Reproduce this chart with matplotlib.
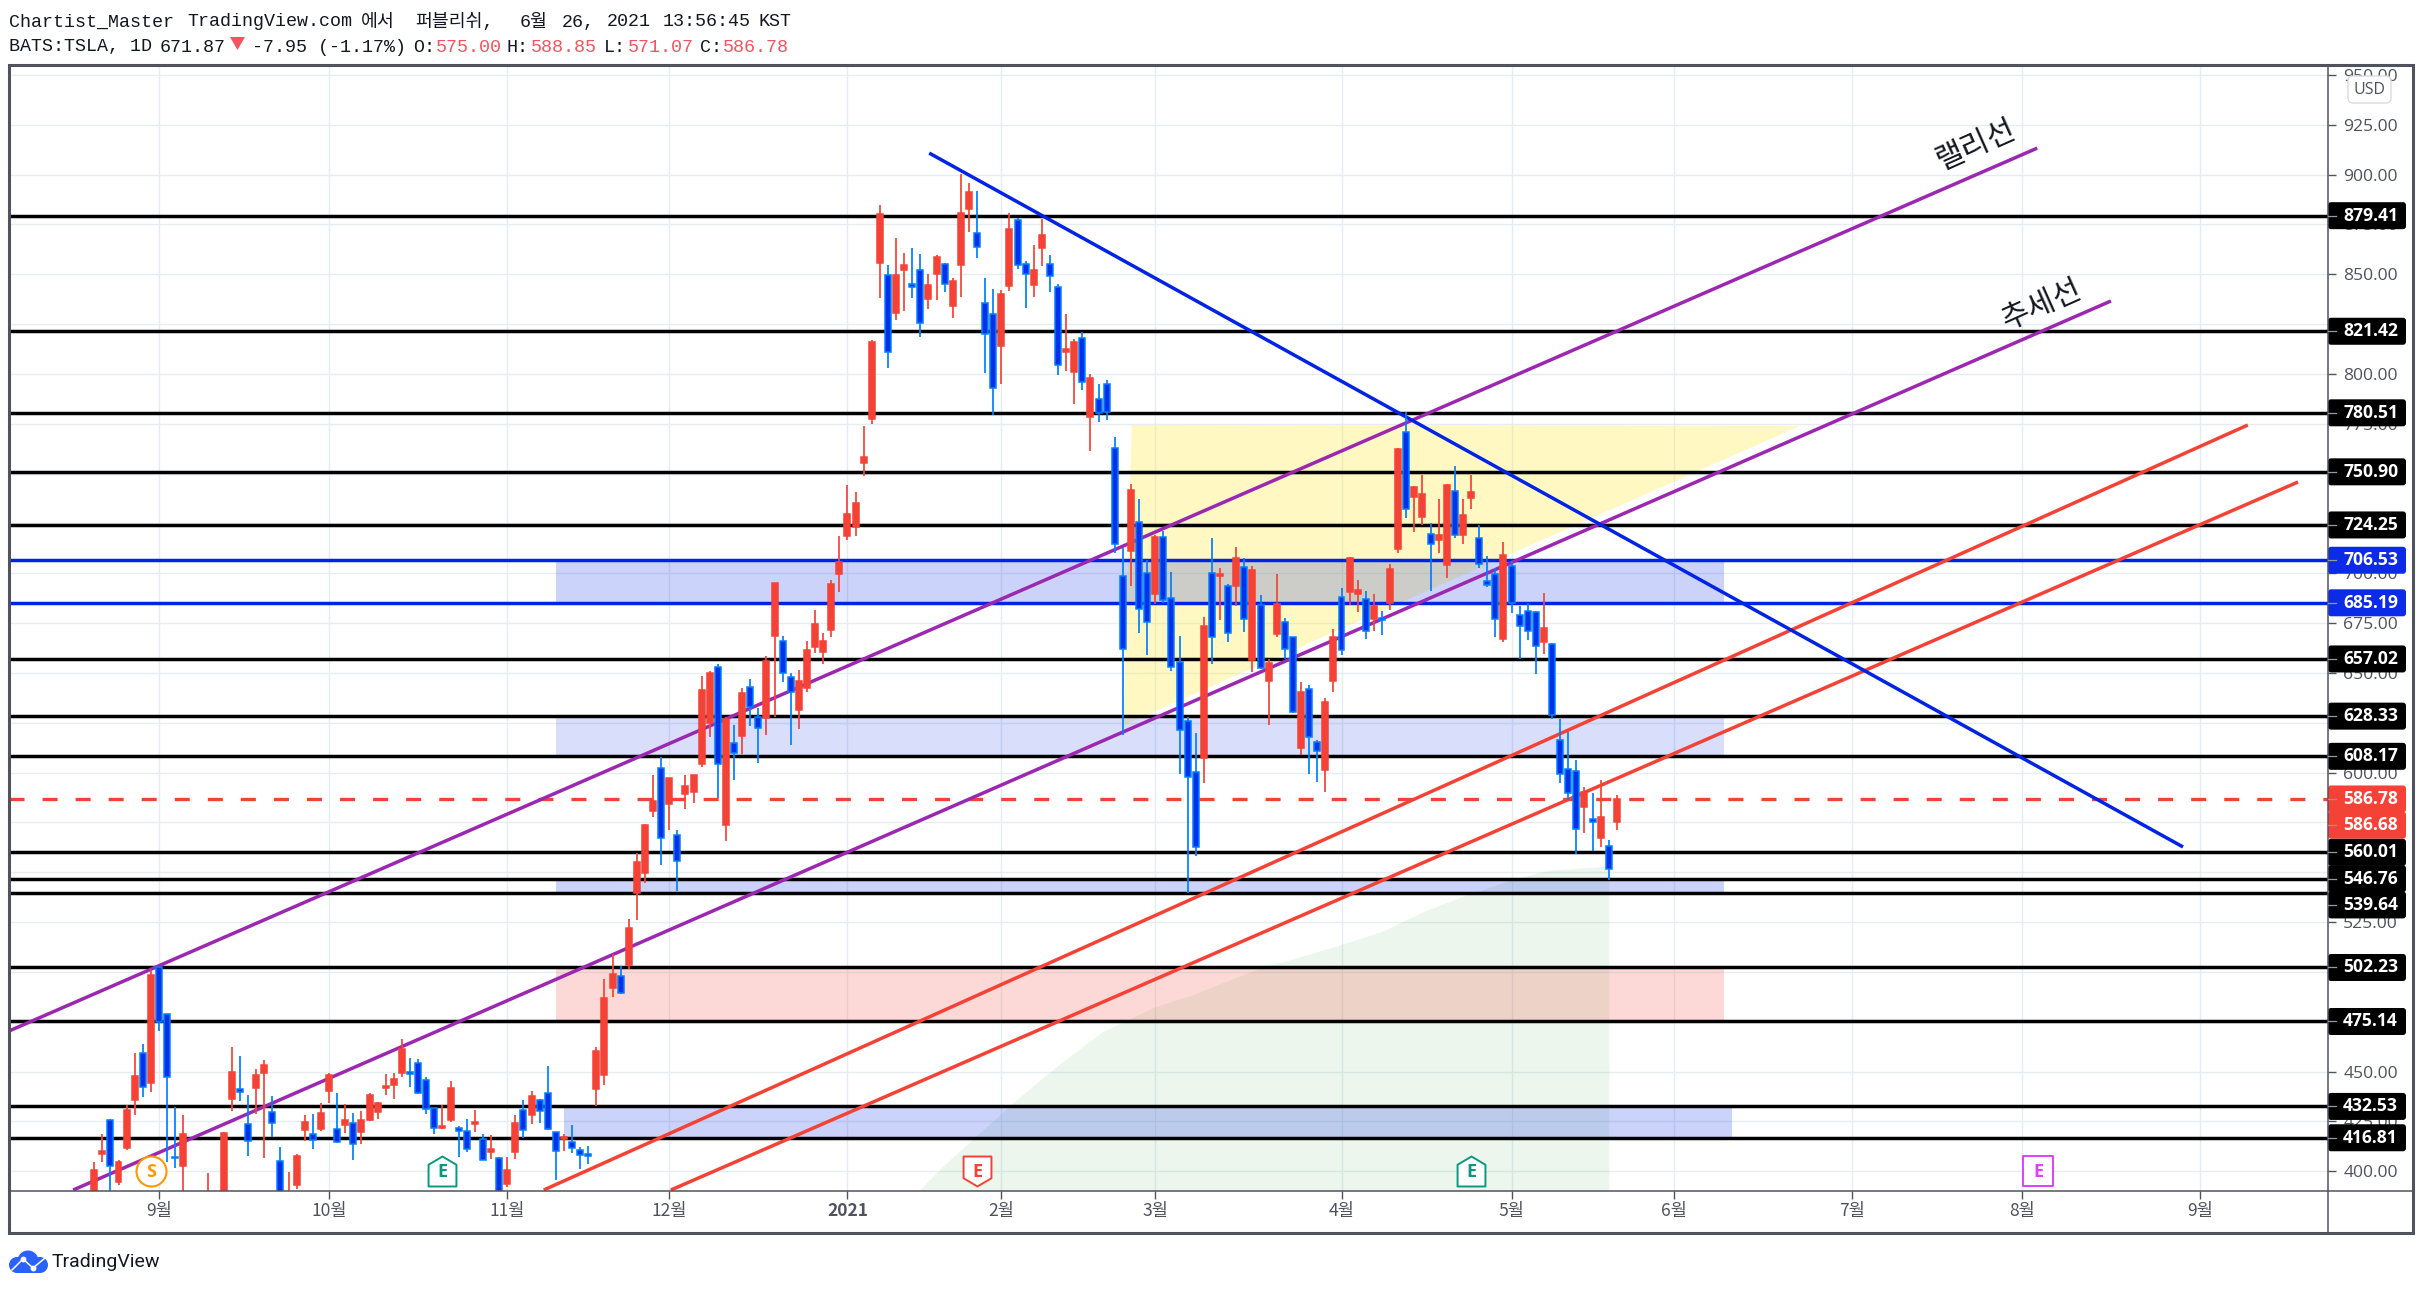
import numpy as np
import matplotlib
matplotlib.use('Agg')
import matplotlib.pyplot as plt
from matplotlib.patches import Rectangle, FancyBboxPatch, Polygon, Circle
from matplotlib.path import Path

plt.rcParams['lines.scale_dashes'] = False

# Daily candles, first bar is eight sessions before 1 Sep 2020, last is 20 May 2021
bars = np.arange(-8, 181)
opens = [372.0, 408.6, 425.6, 394.7, 411.6, 435.7, 459.1, 444.2,
    502.4, 479.1, 407.4, 402.7, 356.0, 356.6, 370.0, 366.0, 381.0, 436.2, 441.5, 423.5, 441.7, 449.2, 429.5,
    404.9, 363.8, 393.2, 420.8, 418.9, 421.1,
    440.2, 421.4, 423.1, 424.0, 419.8, 425.8, 429.6, 441.7, 443.4, 449.4, 450.0, 454.4, 446.0, 431.5, 421.8,
    425.6, 421.95, 420.4, 423.6, 416.4, 409.7, 406.9,
    393.5, 409.7, 430.5, 428.3, 436.0, 439.5, 419.9, 416.4, 414.8, 410.9, 408.9, 441.35, 448.4, 492.0, 498.2,
    503.6, 539.4, 549.5, 580.8, 602.2, 584.3, 568.5, 589.3, 590.5, 604.3, 624.7, 653.2, 573.9, 614.7, 618.5,
    642.8, 627.7, 627.6, 668.7, 665.9, 647.8, 631.4, 642.6, 663.2, 660.7, 671.6, 699.6, 718.7, 723.2,
    755.3, 777.6, 855.8, 849.5, 830.7, 852.1, 845.0, 852.0, 837.6, 850.1, 855.0, 834.2, 854.6, 882.8, 870.5,
    835.4, 829.9, 814.2, 844.3, 877.1, 855.0, 844.6, 863.4, 855.0, 843.6, 811.0, 801.1, 817.9, 778.6, 787.3,
    794.8, 762.7, 698.5, 711.3, 725.9, 700.0, 689.8, 718.0, 687.8, 655.3, 625.7, 600.1, 607.5, 700.0, 698.8,
    693.5, 693.8, 703.0, 656.5, 684.1, 646.1, 669.5, 675.4, 667.9, 612.5, 641.8, 615.2, 601.5, 646.1, 687.9,
    690.8, 689.8, 686.9, 677.2, 677.4, 685.3, 712.4, 770.7, 738.4, 728.4, 719.5, 716.9, 704.3, 741.1, 719.4,
    737.9, 717.5, 696.0, 699.5, 667.0, 703.5, 678.9, 680.9, 680.4, 665.4, 664.7, 616.5, 602.0, 601.0, 582.9,
    576.6, 567.4, 563.0, 575.0]
highs = [404.4, 418.9, 426.1, 405.6, 433.2, 459.2, 463.8, 501.4,
    502.55, 479.1, 432.0, 428.1, 368.7, 369.0, 399.0, 382.5, 419.9, 462.3, 457.7, 438.2, 451.2, 455.7, 437.7,
    412.1, 399.4, 408.9, 428.1, 428.6, 434.2,
    449.2, 439.2, 433.7, 429.1, 430.1, 439.2, 434.5, 448.7, 449.2, 466.3, 456.7, 456.2, 447.2, 431.7, 433.2,
    445.2, 422.8, 426.1, 430.6, 418.6, 418.1, 407.4,
    407.1, 428.1, 435.7, 440.2, 436.5, 452.6, 419.9, 418.6, 423.1, 412.4, 412.6, 462.3, 496.4, 508.9, 503.1,
    526.5, 559.5, 574.2, 598.8, 607.7, 597.1, 571.2, 598.8, 598.8, 648.5, 651.0, 654.5, 627.7, 623.9, 642.5,
    646.8, 632.2, 658.5, 695.0, 668.6, 649.8, 651.5, 665.9, 681.6, 670.2, 696.6, 718.7, 744.3, 740.8,
    773.9, 817.0, 884.8, 854.6, 868.2, 860.7, 863.2, 860.2, 850.1, 859.7, 855.7, 848.1, 900.3, 895.8, 891.8,
    848.1, 842.6, 842.1, 880.7, 878.2, 856.7, 864.7, 877.7, 859.7, 845.0, 830.1, 817.4, 821.0, 800.0, 795.0,
    796.9, 768.4, 712.5, 744.8, 737.3, 706.7, 719.2, 721.2, 700.6, 668.5, 627.7, 619.9, 677.9, 717.7, 702.5,
    694.6, 713.2, 707.5, 703.7, 689.1, 656.8, 699.6, 677.6, 667.9, 645.5, 643.8, 616.4, 637.3, 672.1, 692.4,
    708.0, 696.6, 691.0, 689.6, 681.1, 704.6, 762.7, 780.9, 743.8, 749.3, 725.1, 737.3, 744.8, 753.8, 737.3,
    749.3, 724.2, 708.7, 702.5, 715.7, 706.0, 683.6, 685.3, 681.2, 690.1, 664.8, 626.7, 620.4, 606.3, 592.8,
    589.8, 596.3, 566.2, 588.85]
lows = [371.0, 404.4, 385.0, 393.0, 410.8, 428.1, 437.2, 439.7,
    470.3, 404.4, 401.6, 351.0, 329.9, 341.5, 360.0, 360.5, 373.0, 430.1, 435.2, 407.6, 428.6, 406.6, 417.1,
    375.9, 351.3, 391.0, 415.1, 411.1, 420.1,
    434.2, 414.4, 419.1, 405.6, 413.6, 425.1, 426.1, 438.2, 436.2, 447.4, 442.2, 438.7, 428.6, 418.6, 421.1,
    424.6, 407.1, 409.7, 419.8, 405.7, 406.1, 379.0,
    392.2, 406.1, 416.6, 423.6, 424.1, 420.6, 395.5, 410.2, 409.1, 401.1, 403.6, 432.7, 443.2, 487.3, 488.8,
    501.4, 526.0, 544.8, 577.9, 553.7, 571.2, 540.8, 581.8, 584.9, 602.6, 618.0, 587.1, 565.9, 596.3, 609.4,
    623.6, 604.7, 618.9, 628.1, 645.6, 613.9, 621.9, 640.4, 660.2, 654.5, 668.2, 690.8, 716.7, 718.7,
    748.8, 774.9, 838.1, 803.0, 827.1, 831.6, 838.1, 818.5, 832.6, 837.1, 841.1, 828.1, 838.6, 871.2, 858.2,
    800.5, 779.4, 794.9, 841.6, 852.6, 833.1, 838.6, 854.1, 841.1, 799.5, 801.5, 784.9, 792.0, 761.3, 775.9,
    776.9, 710.0, 618.9, 693.8, 670.2, 659.0, 684.6, 684.9, 651.1, 599.3, 539.5, 558.3, 594.9, 654.7, 676.6,
    665.7, 683.6, 670.6, 650.5, 651.8, 623.9, 668.2, 657.2, 629.7, 608.8, 599.3, 595.3, 590.5, 640.6, 659.0,
    684.1, 680.6, 667.0, 671.0, 669.0, 681.6, 710.2, 727.7, 720.7, 724.2, 691.1, 710.2, 697.6, 717.7, 714.7,
    732.2, 702.6, 693.1, 668.0, 665.5, 680.1, 657.0, 666.5, 649.5, 659.5, 627.1, 594.6, 586.3, 559.2, 569.9,
    560.7, 562.7, 546.1, 571.07]
closes = [400.5, 410.1, 402.7, 404.4, 430.6, 447.7, 442.4, 498.4,
    474.8, 447.4, 406.7, 418.6, 330.2, 366.3, 385.0, 372.7, 419.4, 449.7, 439.8, 415.4, 448.2, 453.2, 424.0,
    380.4, 387.8, 407.6, 424.6, 415.9, 429.1,
    448.2, 414.9, 425.5, 413.9, 425.5, 438.5, 434.0, 442.7, 446.5, 461.3, 448.9, 439.5, 431.0, 421.95, 422.5,
    442.0, 420.3, 411.4, 424.6, 405.9, 411.1, 388.0,
    400.5, 424.1, 420.9, 438.0, 430.0, 421.3, 410.4, 417.1, 411.9, 408.4, 407.9, 460.1, 486.7, 499.2, 489.5,
    521.8, 555.0, 573.7, 585.8, 567.0, 597.1, 555.8, 593.3, 598.8, 641.5, 649.8, 604.2, 626.7, 609.7, 639.8,
    632.7, 622.6, 656.2, 695.0, 649.8, 640.3, 645.8, 661.5, 674.6, 666.0, 694.6, 705.7, 729.7, 735.3,
    758.3, 816.0, 880.2, 810.9, 849.6, 854.6, 843.4, 825.7, 844.6, 858.7, 845.0, 846.6, 880.7, 891.3, 863.9,
    819.9, 793.1, 840.1, 872.7, 854.5, 850.0, 852.1, 869.7, 849.3, 804.6, 812.5, 816.0, 796.1, 797.8, 780.6,
    781.1, 714.5, 661.9, 741.8, 681.9, 675.4, 718.2, 686.4, 652.8, 621.4, 597.6, 562.5, 673.6, 667.9, 699.6,
    669.9, 707.7, 676.9, 701.6, 652.6, 654.8, 684.6, 661.9, 630.3, 640.3, 618.0, 611.0, 635.4, 667.9, 661.4,
    707.5, 691.5, 670.9, 683.6, 676.6, 702.2, 762.3, 732.1, 743.1, 739.6, 714.5, 719.0, 744.1, 719.4, 729.1,
    740.6, 704.5, 694.0, 676.9, 709.0, 684.9, 673.4, 670.9, 663.4, 672.4, 628.7, 599.1, 589.6, 571.6, 590.1,
    575.1, 577.7, 551.8, 586.78]

# Horizontal levels drawn across the whole panel
black_levels = [879.41, 821.42, 780.51, 750.90, 724.25, 657.02, 628.33, 608.17,
                560.01, 546.76, 539.64, 502.23, 475.14, 432.53, 416.81]
blue_levels = [706.53, 685.19]
last_price = 586.78

# Right axis price tags: value, colour, offset in pixels where tags would collide
tag_values = [879.41, 821.42, 780.51, 750.90, 724.25, 706.53, 685.19, 657.02, 628.33, 608.17,
              586.78, 586.68, 560.01, 546.76, 539.64, 502.23, 475.14, 432.53, 416.81]
tag_colors = ['k', 'k', 'k', 'k', 'k', '#0B2BE8', '#0B2BE8', 'k', 'k', 'k',
              '#F44336', '#F44336', 'k', 'k', 'k', 'k', 'k', 'k', 'k']
tag_shifts = [0, 0, 0, 0, 0, 0, 0, 0, 0, 0, 0, 26, 0, 0, 12, 0, 0, 0, 0]

# Shaded price zones: low, high, first bar, last bar, colour, alpha
zone_low = [685.19, 608.17, 539.64, 475.14, 416.81]
zone_high = [706.53, 628.33, 546.76, 502.23, 432.53]
zone_start = [49.0, 49.0, 49.0, 49.0, 50.0]
zone_end = [193.2, 193.2, 193.2, 193.2, 194.2]
zone_colors = ['#0023E6', '#0023E6', '#0023E6', '#F44336', '#0023E6']
zone_alpha = [0.2, 0.15, 0.2, 0.2, 0.2]

# Trend lines, given as bar number and price at both ends
purple_bars = [[-18.5, 231.9], [-10.6, 241.0]]
purple_prices = [[470.4, 913.3], [390.6, 836.6]]
red_bars = [[47.5, 257.9], [63.2, 264.1]]
red_prices = [[390.6, 774.4], [390.6, 745.8]]
down_bars = [95.1, 249.9]
down_prices = [910.8, 562.7]

# Yellow triangle
triangle_bars = [120.1, 202.6, 119.1]
triangle_prices = [774.4, 773.9, 623.8]

# Green area below the price
area_bars = [93.8, 96.7, 100.8, 104.9, 107.8, 111.3, 116.5, 123.0, 127.6, 131.7,
             136.9, 139.3, 145.1, 150.9, 156.1, 161.4, 166.6, 171.3, 179.0]
area_prices = [390.3, 402.3, 417.4, 432.4, 442.5, 454.2, 470.1, 482.6, 488.5, 495.2,
               503.5, 505.7, 512.7, 520.2, 530.3, 538.6, 545.8, 550.8, 553.2]

# Month ticks as bar numbers
month_bars = [0, 21, 43, 63, 85, 104, 123, 146, 167, 187, 209, 230, 252]
month_labels = ['9월', '10월', '11월', '12월', '2021', '2월', '3월', '4월', '5월', '6월', '7월', '8월', '9월']
price_ticks = np.arange(400, 951, 25)

# Dividend and earnings badges
badge_bars = [35, 101, 162, 232]
badge_colors = ['#089981', '#F44336', '#089981', '#E040FB']
badge_shapes = ['up', 'down', 'up', 'square']

W, H = 2423, 1289
KR = ['Noto Sans CJK KR', 'DejaVu Sans']
MONO = ['Liberation Mono', 'Noto Sans CJK KR']
AXIS_COLOR = '#50535E'
GRID_COLOR = '#E5EDF3'
UP_COLOR = '#F44336'
DOWN_COLOR = '#0030E8'
DOWN_EDGE = '#0080FF'

fig = plt.figure(figsize=(W / 100, H / 100), dpi=100, facecolor='white')
ax = fig.add_axes([9 / W, (H - 1191) / H, (2328 - 9) / W, (1191 - 65) / H])
ax.set_xlim(-18.52, 267.8)
ax.set_ylim(390.1, 955.0)
for side in ax.spines.values():
    side.set_visible(False)

# Grid and axis ticks
ax.set_axisbelow(True)
ax.grid(True, color=GRID_COLOR, linewidth=1.0)
ax.set_xticks(month_bars, month_labels)
ax.set_yticks(price_ticks, ['%.2f' % p for p in price_ticks])
ax.yaxis.tick_right()
ax.tick_params(axis='y', length=6, width=1, color=AXIS_COLOR, pad=5, labelsize=12.6, labelcolor=AXIS_COLOR)
ax.tick_params(axis='x', length=6, width=1, color=AXIS_COLOR, pad=2, labelsize=12.6, labelcolor=AXIS_COLOR)
for label in ax.get_yticklabels():
    label.set_fontfamily('Open Sans')
for label in ax.get_xticklabels():
    label.set_fontfamily(KR)
    if label.get_text() == '2021':
        label.set_fontweight('bold')

# Areas and zones
ax.fill_between(area_bars, 390.1, area_prices, color='#4CAF50', alpha=0.1, linewidth=0, zorder=1.2)
ax.add_patch(Polygon(list(zip(triangle_bars, triangle_prices)), closed=True, facecolor='#FFEB3B',
                     alpha=0.3, edgecolor='none', zorder=1.3))
for lo, hi, x0, x1, c, a in zip(zone_low, zone_high, zone_start, zone_end, zone_colors, zone_alpha):
    ax.add_patch(Rectangle((x0, lo), x1 - x0, hi - lo, facecolor=c, alpha=a, edgecolor='none', zorder=1.4))

# Levels and trend lines
ax.hlines(black_levels, -18.52, 267.8, colors='k', linewidth=2.5, zorder=2)
ax.hlines(blue_levels, -18.52, 267.8, colors='#0023E6', linewidth=2.5, zorder=2)
ax.plot([-18.52, 267.8], [last_price, last_price], color='#F44336', linewidth=2.4,
        linestyle=(0, (10.8, 13)), dash_capstyle='butt', zorder=2)
for xs, ys in zip(purple_bars, purple_prices):
    ax.plot(xs, ys, color='#9C27B0', linewidth=2.5, solid_capstyle='butt', zorder=2.1)
for xs, ys in zip(red_bars, red_prices):
    ax.plot(xs, ys, color='#F44336', linewidth=2.5, solid_capstyle='butt', zorder=2.1)
ax.plot(down_bars, down_prices, color='#0023E6', linewidth=2.5, solid_capstyle='butt', zorder=2.1)

# Candles
bars = np.array(bars)
opens, highs, lows, closes = map(np.array, (opens, highs, lows, closes))
up = closes >= opens
ax.vlines(bars[up], lows[up], highs[up], colors=UP_COLOR, linewidth=1.25, zorder=3)
ax.vlines(bars[~up], lows[~up], highs[~up], colors=DOWN_EDGE, linewidth=1.25, zorder=3)
ax.bar(bars[up], (closes - opens)[up], bottom=opens[up], width=0.74, color=UP_COLOR,
       edgecolor=UP_COLOR, linewidth=1.1, zorder=3.1)
ax.bar(bars[~up], (opens - closes)[~up], bottom=closes[~up], width=0.74, color=DOWN_COLOR,
       edgecolor=DOWN_EDGE, linewidth=1.1, zorder=3.1)

# Dividend and earnings badges along the bottom of the panel
badge_paths = {
    'up': Path([(-0.93, -1), (0.93, -1), (0.93, 0.45), (0, 1), (-0.93, 0.45), (-0.93, -1)], closed=True),
    'down': Path([(-0.93, 1), (0.93, 1), (0.93, -0.45), (0, -1), (-0.93, -0.45), (-0.93, 1)], closed=True),
    'square': Path([(-0.93, -0.93), (0.93, -0.93), (0.93, 0.93), (-0.93, 0.93), (-0.93, -0.93)], closed=True),
}
ax.scatter([-1], [400], s=466, marker='o', facecolor='white', edgecolor='#FF9800', linewidth=1.5, zorder=4)
ax.text(-1, 399.5, 'S', color='#FF9800', fontsize=13, fontweight='bold', family='Open Sans',
        ha='center', va='center', zorder=4.1)
for b, c, shape in zip(badge_bars, badge_colors, badge_shapes):
    ax.scatter([b], [400], s=466, marker=badge_paths[shape], facecolor='white', edgecolor=c,
               linewidth=1.4, zorder=4)
    ax.text(b, 399.5, 'E', color=c, fontsize=13, fontweight='bold', family='Open Sans',
            ha='center', va='center', zorder=4.1)

# Handwritten line names
ax.text(224.3, 914.8, '랠리선', rotation=24, fontsize=22, family=KR, color='#131722', fontweight='medium',
        ha='center', va='center', rotation_mode='anchor', zorder=4)
ax.text(232.5, 834.5, '추세선', rotation=24, fontsize=22, family=KR, color='#131722', fontweight='medium',
        ha='center', va='center', rotation_mode='anchor', zorder=4)

# Everything outside the panel is laid out in pixels on a full-size overlay
over = fig.add_axes([0, 0, 1, 1], zorder=5)
over.set_xlim(0, W)
over.set_ylim(H, 0)
over.axis('off')
over.patch.set_alpha(0)

# Frame
over.add_patch(Rectangle((9, 65), 2404, 1168, fill=False, edgecolor=AXIS_COLOR, linewidth=2.2))
over.plot([2328, 2328], [65, 1233], color=AXIS_COLOR, linewidth=1.1)
over.plot([9, 2413], [1191, 1191], color=AXIS_COLOR, linewidth=1.1)

# Price tags
fig.canvas.draw()
for value, c, shift in zip(tag_values, tag_colors, tag_shifts):
    y = H - ax.transData.transform((0, value))[1] + shift
    over.add_patch(FancyBboxPatch((2328, y - 13.5), 78, 27, boxstyle='round,pad=0,rounding_size=3',
                                  facecolor=c, edgecolor='none'))
    over.plot([2328, 2336], [y, y], color='#9598A1', linewidth=0.9)
    over.text(2343, y, '%.2f' % value, color='white', fontsize=12.6, family='Open Sans', fontweight='bold',
              ha='left', va='center')

# Currency button
over.add_patch(FancyBboxPatch((2348, 76), 43, 27, boxstyle='round,pad=0,rounding_size=5',
                              facecolor='white', edgecolor='#D6D8E0', linewidth=0.9))
over.text(2369.5, 89.5, 'USD', color=AXIS_COLOR, fontsize=11.5, family='Open Sans', ha='center', va='center')

# Header lines
INK = '#131722'
SOFT_RED = '#F7525F'
title_x = [9, 187, 361, 415, 520, 562, 607, 663, 758]
title_text = ['Chartist_Master', 'TradingView.com', '에서', '퍼블리쉬,', '6월', '26,', '2021', '13:56:45', 'KST']
for x, t in zip(title_x, title_text):
    over.text(x, 22, t, color=INK, fontsize=13.2, family=MONO, ha='left', va='center')
header_x = [9, 160, 252, 413, 436, 507, 531, 604, 628, 700, 723]
header_text = ['BATS:TSLA, 1D', '671.87', '-7.95 (-1.17%)', 'O:', '575.00', 'H:', '588.85', 'L:', '571.07', 'C:', '586.78']
header_color = [INK, INK, INK, INK, SOFT_RED, INK, SOFT_RED, INK, SOFT_RED, INK, SOFT_RED]
for x, t, c in zip(header_x, header_text, header_color):
    over.text(x, 47, t, color=c, fontsize=13.2, family=MONO, ha='left', va='center')
over.add_patch(Polygon([(230, 37), (245, 37), (237.5, 50)], closed=True, facecolor=SOFT_RED, edgecolor='none'))

# TradingView logo
LOGO = '#2962FF'
over.add_patch(Circle((17, 1265), 8, facecolor=LOGO, edgecolor='none'))
over.add_patch(Circle((28, 1261), 10.5, facecolor=LOGO, edgecolor='none'))
over.add_patch(Circle((40, 1265), 8, facecolor=LOGO, edgecolor='none'))
over.add_patch(Rectangle((17, 1265), 23, 8, facecolor=LOGO, edgecolor='none'))
over.plot([12, 23, 33, 45], [1270, 1259, 1268, 1258], color='white', linewidth=1.1)
over.scatter([23, 33], [1259, 1268], s=10, color='white', zorder=3)
over.text(52, 1262, 'TradingView', color=INK, fontsize=14, family='Roboto', ha='left', va='center')

fig.savefig('out.png', dpi=100, facecolor='white')
